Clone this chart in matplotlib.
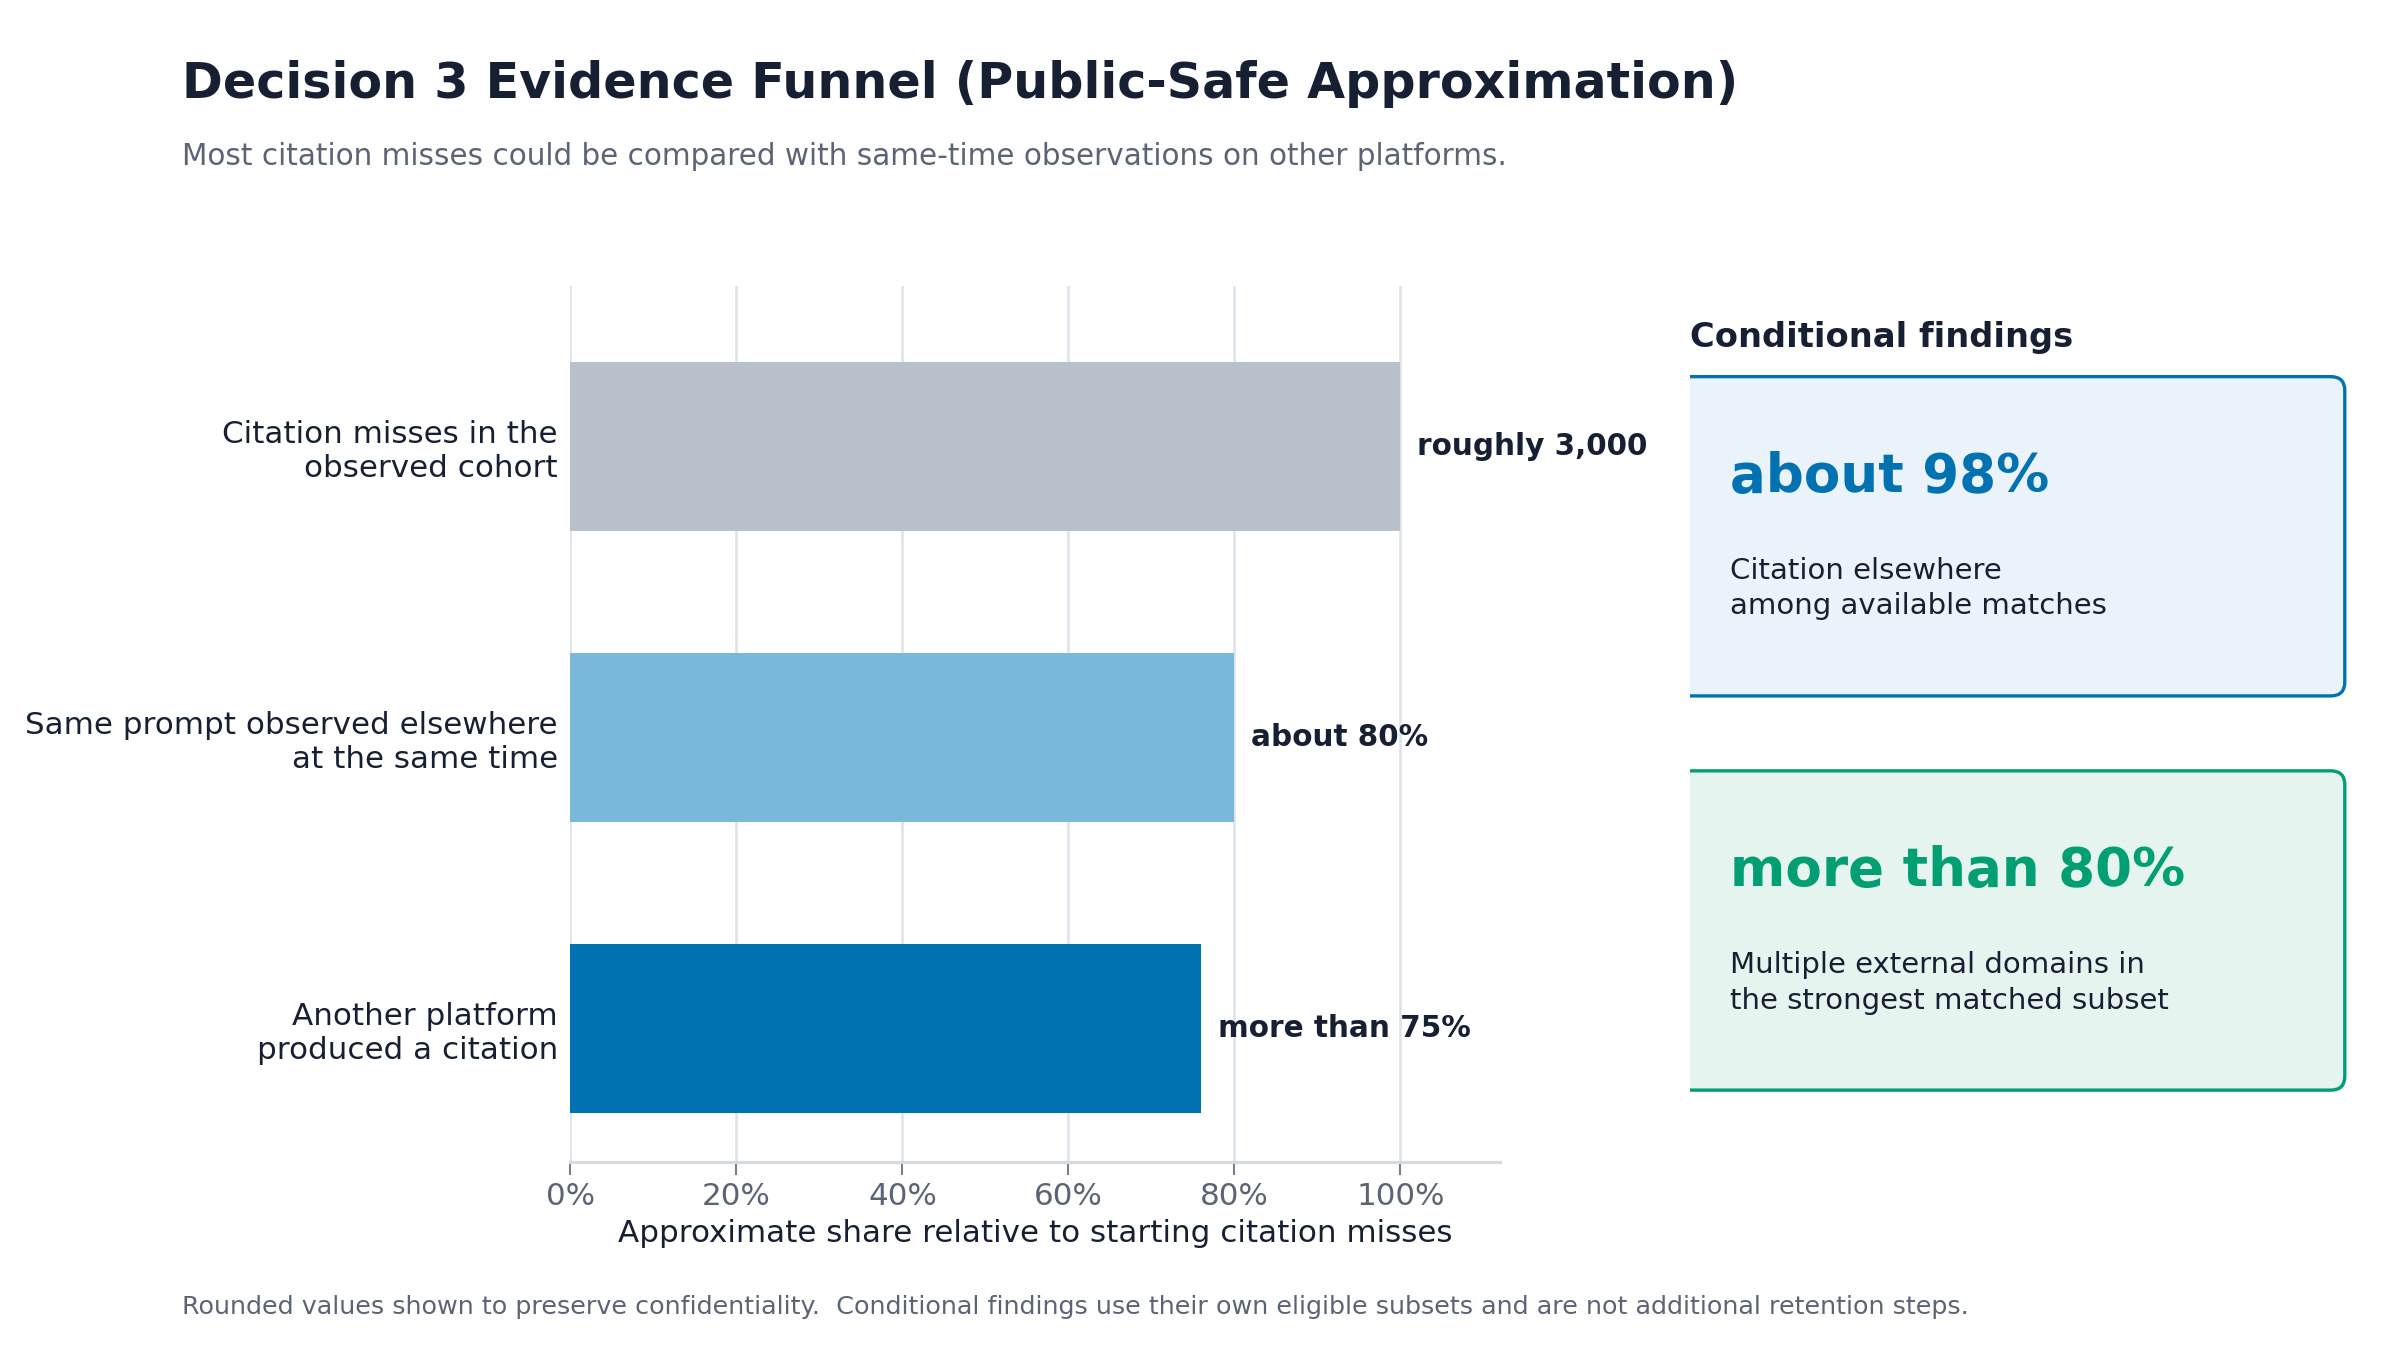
import matplotlib
matplotlib.use("Agg")
import matplotlib.pyplot as plt
from matplotlib.patches import FancyBboxPatch
from matplotlib.ticker import FuncFormatter

# data
stages = ["Citation misses in the\nobserved cohort",
          "Same prompt observed elsewhere\nat the same time",
          "Another platform\nproduced a citation"]
shares = [100, 80, 76]
bar_labels = ["roughly 3,000", "about 80%", "more than 75%"]
bar_colors = ["#b8c0cc", "#79b8d9", "#0072b2"]

findings_big = ["about 98%", "more than 80%"]
findings_text = ["Citation elsewhere\namong available matches",
                 "Multiple external domains in\nthe strongest matched subset"]
findings_color = ["#0072b2", "#009e73"]
findings_fill = ["#eaf3f9", "#e6f4ef"]

DARK = "#172033"
GRAY = "#5b6475"

fig = plt.figure(figsize=(16, 9), dpi=150)

fig.text(0.076, 0.938, "Decision 3 Evidence Funnel (Public-Safe Approximation)",
         fontsize=23.6, fontweight="bold", color=DARK, va="center")
fig.text(0.076, 0.884, "Most citation misses could be compared with same-time observations on other platforms.",
         fontsize=14.2, color=GRAY, va="center")
fig.text(0.076, 0.032, "Rounded values shown to preserve confidentiality.  Conditional findings use their own "
         "eligible subsets and are not additional retention steps.",
         fontsize=12.2, color=GRAY, va="center")

ax = fig.add_axes([0.2377, 0.139, 0.3873, 0.649])
ypos = list(range(len(stages)))
ax.barh(ypos, shares, height=0.58, color=bar_colors, zorder=3)
for y, v, lab in zip(ypos, shares, bar_labels):
    ax.text(v + 2, y, lab, va="center", ha="left", fontsize=14.2,
            fontweight="bold", color=DARK)
ax.set_yticks(ypos)
ax.set_yticklabels(stages, fontsize=14.9, color=DARK)
ax.set_ylim(2.46, -0.55)
ax.set_xlim(0, 112)
ax.set_xticks([0, 20, 40, 60, 80, 100])
ax.xaxis.set_major_formatter(FuncFormatter(lambda v, p: f"{v:.0f}%"))
ax.tick_params(axis="x", labelsize=14.9, labelcolor=GRAY, color=GRAY, length=6)
ax.tick_params(axis="y", length=0, pad=6)
ax.set_xlabel("Approximate share relative to starting citation misses",
              fontsize=14.9, color=DARK, labelpad=4)
ax.grid(axis="x", color="#dde1e8", linewidth=1.2, zorder=0)
for s in ["top", "right", "left"]:
    ax.spines[s].set_visible(False)
ax.spines["bottom"].set_color("#d5d9e2")
ax.spines["bottom"].set_linewidth(1.5)

# right panel, in pixel-like units so rounded corners stay round
px = fig.add_axes([0.704, 0.18, 0.28, 0.6])
pw, ph = 0.28 * 2400, 0.6 * 1350
px.set_xlim(0, pw)
px.set_ylim(0, ph)
px.axis("off")
px.text(0, (0.75 - 0.18) * 1350, "Conditional findings", fontsize=16.2,
        fontweight="bold", color=DARK, va="center", ha="left")
box_tops = [0.721, 0.429]
box_h = 0.2365
for i in range(2):
    y0 = (box_tops[i] - box_h - 0.18) * 1350
    h = box_h * 1350
    p = FancyBboxPatch((-30, y0), 0.977 * 2400 - 0.704 * 2400 + 30, h,
                       boxstyle="round,pad=0,rounding_size=14",
                       facecolor=findings_fill[i], edgecolor=findings_color[i],
                       linewidth=1.6, clip_on=True)
    px.add_patch(p)
    px.text(40, y0 + h - 100, findings_big[i], fontsize=25.5, fontweight="bold",
            color=findings_color[i], va="center", ha="left")
    px.text(40, y0 + h - 180, findings_text[i], fontsize=14, color=DARK,
            va="top", ha="left", linespacing=1.35)

fig.savefig("out.png", dpi=150, facecolor="white")
